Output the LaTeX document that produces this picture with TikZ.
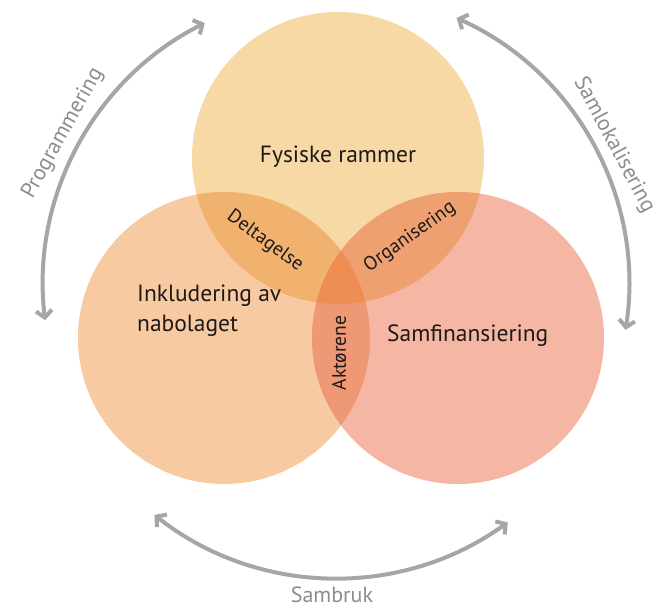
\documentclass[tikz,border=0pt]{standalone}
\usepackage{fontspec}
\setmainfont{PT Sans}
\usetikzlibrary{arrows.meta}
\definecolor{cT}{RGB}{247,217,166}
\definecolor{cL}{RGB}{248,202,162}
\definecolor{cR}{RGB}{245,183,163}
\definecolor{cTL}{RGB}{241,178,112}
\definecolor{cTR}{RGB}{239,160,112}
\definecolor{cLR}{RGB}{238,152,118}
\definecolor{cTLR}{RGB}{238,142,82}
\definecolor{arcgray}{RGB}{165,165,170}
\definecolor{labgray}{RGB}{140,140,145}
\definecolor{txt}{RGB}{30,25,25}
\tikzset{
  maintext/.style={inner sep=0pt, text=txt, font=\fontsize{23.5}{30}\selectfont},
  lenstext/.style={inner sep=0pt, text=txt, font=\fontsize{19.5}{22}\selectfont},
  graytext/.style={inner sep=0pt, text=labgray, font=\fontsize{22}{26}\selectfont},
  cyc/.style={line width=4pt, draw=arcgray, {Straight Barb[length=7pt,width=16pt]}-{Straight Barb[length=7pt,width=16pt]}}
}
\begin{document}
\begin{tikzpicture}[x=1pt,y=1pt]
\useasboundingbox (0,0) rectangle (657,609);
\coordinate (ct) at (338,451);
\coordinate (cl) at (224,271);
\coordinate (cr) at (458,271);
\coordinate (C) at (336,324);
% circles
\fill[cT] (ct) circle[radius=146pt];
\fill[cL] (cl) circle[radius=146pt];
\fill[cR] (cr) circle[radius=146pt];
\begin{scope}
  \clip (ct) circle[radius=146pt];
  \fill[cTL] (cl) circle[radius=146pt];
\end{scope}
\begin{scope}
  \clip (ct) circle[radius=146pt];
  \fill[cTR] (cr) circle[radius=146pt];
\end{scope}
\begin{scope}
  \clip (cl) circle[radius=146pt];
  \fill[cLR] (cr) circle[radius=146pt];
\end{scope}
\begin{scope}
  \clip (ct) circle[radius=146pt];
  \clip (cl) circle[radius=146pt];
  \fill[cTLR] (cr) circle[radius=146pt];
\end{scope}
% texts
\node[maintext, anchor=base] (fys) at (338,446) {Fysiske rammer};
\node[maintext, anchor=base west, align=left] (ink) at (137,277) {Inkludering av\\nabolaget};
\node[maintext, anchor=base west] (sam) at (387,267) {Samfinansiering};
\node[lenstext, rotate=-36] (del) at (265,368) {Deltagelse};
\node[lenstext, rotate=35.5] (org) at (410,372) {Organisering};
\node[lenstext, rotate=90] (akt) at (339,256) {Aktørene};
% cycle arcs
\coordinate (pa) at ([shift={(116.6:293pt)}]C);
\coordinate (pb) at ([shift={(65.7:293pt)}]C);
\coordinate (pc) at ([shift={(231.7:293pt)}]C);
\draw[cyc] (pa) arc[start angle=116.6, end angle=186.9, radius=293pt];
\draw[cyc] (pb) arc[start angle=65.7, end angle=-8.8, radius=293pt];
\draw[cyc] (pc) arc[start angle=231.7, end angle=305.9, radius=293pt];
\node[graytext, rotate=61] (prog) at (63,476) {Programmering};
\node[graytext, rotate=-62] (samlok) at (614,464) {Samlokalisering};
\node[graytext] (sambruk) at (332,14) {Sambruk};
\end{tikzpicture}
\end{document}
